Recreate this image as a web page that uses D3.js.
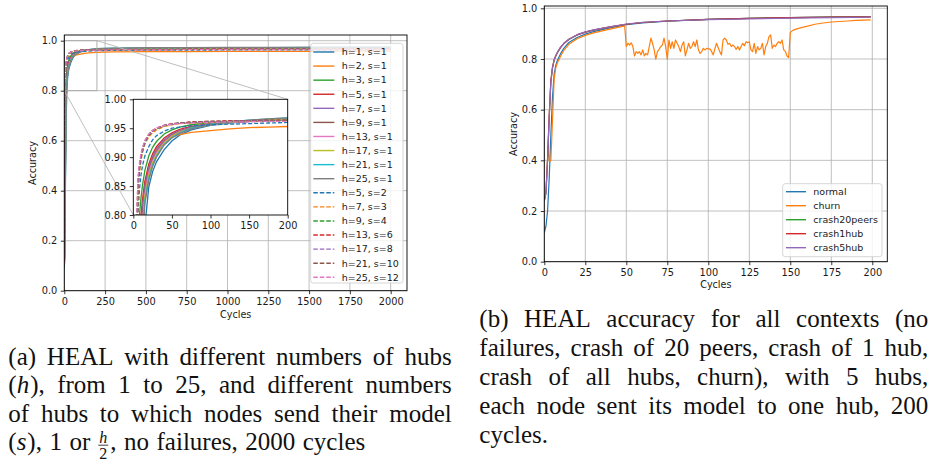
<!DOCTYPE html>
<html lang="en">
<head>
<meta charset="UTF-8">
<title>HEAL accuracy</title>
<script src="https://cdn.jsdelivr.net/npm/d3@7"></script>
<style>
  body { margin: 0; background: #fff; }
  svg { display: block; }
</style>
</head>
<body>
<svg width="935" height="461"></svg>
<script>
// ---------- (a) hubs / s ----------
var cyclesA = [0, 2, 4, 6, 8, 10, 12, 15, 20, 25, 30, 40, 50, 60, 75, 100, 125, 150, 175, 200, 300, 500, 750, 1000, 1250, 1500, 1750, 2000];

var accH1S1  = [0.09, 0.12, 0.20, 0.33, 0.48, 0.60, 0.70, 0.78, 0.848, 0.875, 0.892, 0.913, 0.928, 0.938, 0.947, 0.955, 0.959, 0.962, 0.964, 0.966, 0.968, 0.969, 0.970, 0.970, 0.971, 0.971, 0.971, 0.972];
var accH2S1  = [0.10, 0.15, 0.27, 0.45, 0.63, 0.75, 0.815, 0.855, 0.885, 0.903, 0.915, 0.928, 0.935, 0.939, 0.943, 0.946, 0.949, 0.951, 0.952, 0.953, 0.955, 0.956, 0.956, 0.957, 0.957, 0.957, 0.958, 0.958];
var accH3S1  = [0.10, 0.17, 0.33, 0.56, 0.80, 0.83, 0.852, 0.877, 0.902, 0.917, 0.927, 0.940, 0.947, 0.952, 0.956, 0.960, 0.962, 0.963, 0.964, 0.965, 0.966, 0.967, 0.967, 0.968, 0.968, 0.968, 0.968, 0.969];
var accH5S1  = [0.10, 0.16, 0.29, 0.48, 0.66, 0.80, 0.828, 0.858, 0.888, 0.906, 0.918, 0.933, 0.942, 0.948, 0.953, 0.958, 0.961, 0.962, 0.963, 0.964, 0.965, 0.966, 0.966, 0.967, 0.967, 0.967, 0.968, 0.968];
var accH7S1  = [0.10, 0.15, 0.27, 0.45, 0.63, 0.76, 0.815, 0.850, 0.882, 0.901, 0.914, 0.930, 0.940, 0.946, 0.952, 0.957, 0.960, 0.962, 0.963, 0.964, 0.966, 0.967, 0.967, 0.968, 0.968, 0.968, 0.969, 0.969];
var accH9S1  = [0.10, 0.15, 0.26, 0.43, 0.61, 0.73, 0.80, 0.842, 0.876, 0.897, 0.910, 0.927, 0.938, 0.945, 0.951, 0.957, 0.960, 0.962, 0.963, 0.965, 0.966, 0.967, 0.968, 0.968, 0.969, 0.969, 0.969, 0.970];
var accH13S1 = [0.10, 0.14, 0.25, 0.42, 0.59, 0.72, 0.79, 0.838, 0.873, 0.894, 0.908, 0.926, 0.937, 0.944, 0.950, 0.956, 0.960, 0.962, 0.964, 0.965, 0.967, 0.968, 0.968, 0.969, 0.969, 0.969, 0.970, 0.970];
var accH17S1 = [0.10, 0.14, 0.24, 0.40, 0.57, 0.70, 0.78, 0.832, 0.868, 0.890, 0.905, 0.924, 0.936, 0.943, 0.950, 0.956, 0.960, 0.963, 0.965, 0.966, 0.968, 0.969, 0.969, 0.970, 0.970, 0.970, 0.971, 0.971];
var accH21S1 = [0.09, 0.13, 0.23, 0.38, 0.55, 0.68, 0.765, 0.825, 0.863, 0.886, 0.902, 0.922, 0.934, 0.942, 0.950, 0.957, 0.961, 0.964, 0.966, 0.968, 0.970, 0.971, 0.971, 0.972, 0.972, 0.972, 0.973, 0.973];
var accH25S1 = [0.09, 0.13, 0.22, 0.37, 0.54, 0.67, 0.755, 0.82, 0.860, 0.884, 0.900, 0.921, 0.933, 0.941, 0.949, 0.956, 0.961, 0.964, 0.966, 0.968, 0.970, 0.972, 0.972, 0.973, 0.973, 0.974, 0.974, 0.974];
var accH5S2  = [0.11, 0.25, 0.55, 0.80, 0.845, 0.87, 0.886, 0.902, 0.918, 0.930, 0.937, 0.945, 0.950, 0.952, 0.954, 0.956, 0.957, 0.958, 0.959, 0.960, 0.961, 0.962, 0.962, 0.963, 0.963, 0.963, 0.963, 0.964];
var accH7S3  = [0.11, 0.28, 0.62, 0.83, 0.872, 0.895, 0.908, 0.922, 0.935, 0.942, 0.947, 0.953, 0.956, 0.958, 0.959, 0.961, 0.962, 0.962, 0.963, 0.963, 0.964, 0.964, 0.965, 0.965, 0.965, 0.965, 0.965, 0.966];
var accH9S4  = [0.11, 0.29, 0.66, 0.845, 0.878, 0.898, 0.911, 0.925, 0.937, 0.944, 0.949, 0.954, 0.957, 0.959, 0.960, 0.962, 0.962, 0.963, 0.963, 0.964, 0.964, 0.965, 0.965, 0.965, 0.966, 0.966, 0.966, 0.966];
var accH13S6 = [0.11, 0.31, 0.72, 0.855, 0.884, 0.902, 0.914, 0.927, 0.939, 0.946, 0.950, 0.955, 0.958, 0.959, 0.961, 0.962, 0.963, 0.963, 0.964, 0.964, 0.965, 0.965, 0.966, 0.966, 0.966, 0.966, 0.967, 0.967];
var accH17S8 = [0.11, 0.31, 0.71, 0.852, 0.882, 0.900, 0.912, 0.926, 0.938, 0.945, 0.950, 0.955, 0.957, 0.959, 0.960, 0.962, 0.962, 0.963, 0.963, 0.964, 0.965, 0.965, 0.965, 0.966, 0.966, 0.966, 0.966, 0.967];
var accH21S10 = [0.11, 0.33, 0.76, 0.86, 0.887, 0.904, 0.915, 0.928, 0.939, 0.946, 0.950, 0.955, 0.957, 0.959, 0.960, 0.961, 0.962, 0.962, 0.963, 0.963, 0.964, 0.964, 0.965, 0.965, 0.965, 0.965, 0.966, 0.966];
var accH25S12 = [0.11, 0.34, 0.78, 0.865, 0.890, 0.906, 0.917, 0.929, 0.940, 0.946, 0.950, 0.955, 0.957, 0.958, 0.959, 0.960, 0.961, 0.961, 0.962, 0.962, 0.963, 0.963, 0.964, 0.964, 0.964, 0.964, 0.965, 0.965];

var labelsA = ["h=1, s=1", "h=2, s=1", "h=3, s=1", "h=5, s=1", "h=7, s=1", "h=9, s=1", "h=13, s=1", "h=17, s=1", "h=21, s=1", "h=25, s=1",
               "h=5, s=2", "h=7, s=3", "h=9, s=4", "h=13, s=6", "h=17, s=8", "h=21, s=10", "h=25, s=12"];
var valuesA = [accH1S1, accH2S1, accH3S1, accH5S1, accH7S1, accH9S1, accH13S1, accH17S1, accH21S1, accH25S1,
               accH5S2, accH7S3, accH9S4, accH13S6, accH17S8, accH21S10, accH25S12];

var ticksXA = [0, 250, 500, 750, 1000, 1250, 1500, 1750, 2000];
var ticksY = [0, 0.2, 0.4, 0.6, 0.8, 1.0];
var ticksXInset = [0, 50, 100, 150, 200];
var ticksYInset = [0.80, 0.85, 0.90, 0.95, 1.00];

// ---------- (b) contexts ----------
var cyclesB = [0, 1, 2, 3, 4, 5, 6, 7, 8, 10, 12, 15, 20, 25, 30, 40, 50, 60, 75, 100, 125, 150, 175, 199];
var accNormal    = [0.115, 0.14, 0.20, 0.33, 0.50, 0.65, 0.74, 0.775, 0.795, 0.822, 0.843, 0.865, 0.885, 0.898, 0.908, 0.923, 0.935, 0.942, 0.949, 0.956, 0.960, 0.963, 0.965, 0.967];
var accCrash20   = [0.24, 0.27, 0.40, 0.57, 0.71, 0.765, 0.795, 0.812, 0.825, 0.846, 0.861, 0.877, 0.895, 0.906, 0.914, 0.926, 0.937, 0.944, 0.950, 0.956, 0.960, 0.963, 0.965, 0.967];
var accCrash1Hub = [0.245, 0.275, 0.41, 0.58, 0.715, 0.768, 0.797, 0.813, 0.826, 0.847, 0.862, 0.878, 0.895, 0.906, 0.914, 0.927, 0.937, 0.944, 0.950, 0.956, 0.960, 0.963, 0.965, 0.966];
var accCrash5Hub = [0.24, 0.27, 0.40, 0.57, 0.71, 0.765, 0.796, 0.813, 0.826, 0.847, 0.862, 0.878, 0.896, 0.907, 0.915, 0.927, 0.938, 0.945, 0.950, 0.955, 0.958, 0.961, 0.963, 0.965];

var churnEarlyCycles = [2, 3, 4, 5, 6, 7, 8, 10, 12, 15, 20, 25, 30, 40, 49];
var churnEarly = [0.458, 0.40, 0.398, 0.56, 0.72, 0.765, 0.785, 0.812, 0.835, 0.858, 0.880, 0.893, 0.903, 0.918, 0.931];
// cycles 50 .. 149, one value per cycle
var churnMid = [
  0.849, 0.862, 0.855, 0.864, 0.849, 0.812, 0.829, 0.822, 0.829, 0.816,
  0.836, 0.812, 0.822, 0.816, 0.849, 0.882, 0.862, 0.836, 0.799, 0.829,
  0.838, 0.849, 0.855, 0.882, 0.849, 0.799, 0.875, 0.842, 0.868, 0.842,
  0.875, 0.862, 0.849, 0.829, 0.855, 0.868, 0.812, 0.836, 0.862, 0.842,
  0.849, 0.868, 0.849, 0.875, 0.836, 0.822, 0.829, 0.842, 0.836, 0.842,
  0.840, 0.840, 0.830, 0.816, 0.840, 0.862, 0.845, 0.829, 0.816, 0.875,
  0.882, 0.875, 0.858, 0.862, 0.849, 0.855, 0.849, 0.838, 0.849, 0.836,
  0.849, 0.862, 0.852, 0.868, 0.864, 0.868, 0.836, 0.829, 0.862, 0.822,
  0.849, 0.836, 0.842, 0.862, 0.816, 0.849, 0.862, 0.888, 0.895, 0.842,
  0.855, 0.849, 0.862, 0.868, 0.862, 0.875, 0.836, 0.830, 0.812, 0.806
];
var churnLateCycles = [150, 151, 152, 153, 155, 158, 160, 165, 170, 175, 180, 185, 190, 195, 199];
var churnLate = [0.905, 0.910, 0.914, 0.917, 0.921, 0.926, 0.929, 0.937, 0.942, 0.946, 0.948, 0.950, 0.952, 0.953, 0.954];

var labelsB = ["normal", "churn", "crash20peers", "crash1hub", "crash5hub"];
var ticksXB = [0, 25, 50, 75, 100, 125, 150, 175, 200];

// ---------- styles ----------
var tab = ["#1f77b4", "#ff7f0e", "#2ca02c", "#d62728", "#9467bd", "#8c564b", "#e377c2", "#bcbd22", "#17becf", "#7f7f7f"];
var colorsA = tab.concat(tab.slice(0, 7));
var colorsB = tab.slice(0, 5);
var sansFont = "DejaVu Sans";
var tickSize = 9.8;

var svg = d3.select("svg");

function pairs(xs, ys) {
    return xs.map(function (x, i) { return [x, ys[i]]; });
}

function drawGrid(g, x, y, xt, yt) {
    var xr = x.range(), yr = y.range();
    g.append("g").selectAll("line").data(xt).join("line")
        .attr("x1", d => x(d)).attr("x2", d => x(d))
        .attr("y1", yr[0]).attr("y2", yr[1])
        .attr("stroke", "#b0b0b0").attr("stroke-width", 0.8);
    g.append("g").selectAll("line").data(yt).join("line")
        .attr("y1", d => y(d)).attr("y2", d => y(d))
        .attr("x1", xr[0]).attr("x2", xr[1])
        .attr("stroke", "#b0b0b0").attr("stroke-width", 0.8);
}

function drawAxes(g, x, y, xt, yt, fx, fy) {
    var xr = x.range(), yr = y.range();
    var ax = g.append("g").attr("transform", "translate(0," + yr[0] + ")")
        .call(d3.axisBottom(x).tickValues(xt).tickFormat(fx).tickSize(3.5).tickPadding(3.5));
    var ay = g.append("g").attr("transform", "translate(" + xr[0] + ",0)")
        .call(d3.axisLeft(y).tickValues(yt).tickFormat(fy).tickSize(3.5).tickPadding(3.5));
    [ax, ay].forEach(function (a) {
        a.select(".domain").remove();
        a.attr("font-family", sansFont).attr("font-size", tickSize);
        a.selectAll("line").attr("stroke", "#000").attr("stroke-width", 0.8);
        a.selectAll("text").attr("fill", "#1a1a1a");
    });
    g.append("rect")
        .attr("x", xr[0]).attr("y", yr[1])
        .attr("width", xr[1] - xr[0]).attr("height", yr[0] - yr[1])
        .attr("fill", "none").attr("stroke", "#000").attr("stroke-width", 0.9);
}

function clipFor(id, x, y) {
    var xr = x.range(), yr = y.range();
    svg.append("clipPath").attr("id", id).append("rect")
        .attr("x", xr[0]).attr("y", yr[1])
        .attr("width", xr[1] - xr[0]).attr("height", yr[0] - yr[1]);
    return "url(#" + id + ")";
}

function axisLabels(x, y, cx, cy, ax, ay) {
    svg.append("text").attr("x", cx).attr("y", cy).attr("dy", "0.35em")
        .attr("text-anchor", "middle").attr("font-family", sansFont).attr("font-size", 9.6)
        .attr("fill", "#1a1a1a").text("Cycles");
    svg.append("text").attr("transform", "translate(" + ax + "," + ay + ") rotate(-90)").attr("dy", "0.35em")
        .attr("text-anchor", "middle").attr("font-family", sansFont).attr("font-size", 9.6)
        .attr("fill", "#1a1a1a").text("Accuracy");
}

function legend(labels, colors, dashed, box, rowY, step, lineX, textX) {
    var g = svg.append("g");
    g.append("rect").attr("x", box[0]).attr("y", box[1]).attr("width", box[2]).attr("height", box[3])
        .attr("rx", 2.5).attr("fill", "#fff").attr("fill-opacity", 0.8)
        .attr("stroke", "#cccccc").attr("stroke-width", 0.8);
    labels.forEach(function (lab, i) {
        var yy = rowY + i * step;
        g.append("line").attr("x1", lineX[0]).attr("x2", lineX[1]).attr("y1", yy).attr("y2", yy)
            .attr("stroke", colors[i]).attr("stroke-width", 1.4)
            .attr("stroke-dasharray", dashed(i) ? "4.5,2" : null);
        g.append("text").attr("x", textX).attr("y", yy).attr("dy", "0.35em")
            .attr("font-family", sansFont).attr("font-size", 9.5).attr("fill", "#1a1a1a").text(lab);
    });
}

// ================= chart (a) =================
var xA = d3.scaleLinear().domain([0, 2100]).range([64.3, 407]);
var yA = d3.scaleLinear().domain([0, 1.0228]).range([290.7, 35]);
var lineA = d3.line().x(d => xA(d[0])).y(d => yA(d[1]));
var isDashed = i => i >= 10;

var gA = svg.append("g");
drawGrid(gA, xA, yA, ticksXA, ticksY);
var clipA = clipFor("clipA", xA, yA);
gA.append("g").attr("clip-path", clipA).selectAll("path").data(valuesA).join("path")
    .attr("d", v => lineA(pairs(cyclesA, v)))
    .attr("fill", "none")
    .attr("stroke", (v, i) => colorsA[i])
    .attr("stroke-width", 1.2)
    .attr("stroke-dasharray", (v, i) => isDashed(i) ? "4,2" : null);

// zoom indicator
var xI = d3.scaleLinear().domain([0, 200]).range([133.3, 287.7]);
var yI = d3.scaleLinear().domain([0.8, 1.0]).range([215, 99.3]);
gA.append("rect")
    .attr("x", xA(0)).attr("y", yA(1.0))
    .attr("width", xA(200) - xA(0)).attr("height", yA(0.8) - yA(1.0))
    .attr("fill", "none").attr("stroke", "#a8a8a8").attr("stroke-width", 0.9);
gA.append("line").attr("x1", xA(0)).attr("y1", yA(0.8)).attr("x2", xI(0)).attr("y2", yI(0.8))
    .attr("stroke", "#b8b8b8").attr("stroke-width", 0.9);
gA.append("line").attr("x1", xA(200)).attr("y1", yA(1.0)).attr("x2", xI(200)).attr("y2", yI(1.0))
    .attr("stroke", "#b8b8b8").attr("stroke-width", 0.9);

drawAxes(gA, xA, yA, ticksXA, ticksY, d3.format("d"), d3.format(".1f"));
axisLabels(xA, yA, 235.7, 315, 33, 163);

// inset
var gI = svg.append("g");
gI.append("rect").attr("x", xI(0)).attr("y", yI(1.0))
    .attr("width", xI(200) - xI(0)).attr("height", yI(0.8) - yI(1.0)).attr("fill", "#fff");
var lineI = d3.line().x(d => xI(d[0])).y(d => yI(d[1]));
var clipI = clipFor("clipI", xI, yI);
gI.append("g").attr("clip-path", clipI).selectAll("path").data(valuesA).join("path")
    .attr("d", v => lineI(pairs(cyclesA, v)))
    .attr("fill", "none")
    .attr("stroke", (v, i) => colorsA[i])
    .attr("stroke-width", 1.3)
    .attr("stroke-dasharray", (v, i) => isDashed(i) ? "4,2" : null);
drawAxes(gI, xI, yI, ticksXInset, ticksYInset, d3.format("d"), d3.format(".2f"));

legend(labelsA, colorsA, isDashed, [310.7, 43.3, 92.3, 239.7], 52, 14.08, [313.3, 334.3], 341.7);

// ================= chart (b) =================
var xB = d3.scaleLinear().domain([0, 209.15]).range([544.3, 887.3]);
var yB = d3.scaleLinear().domain([0, 1.0091]).range([261.7, 6]);
var lineB = d3.line().x(d => xB(d[0])).y(d => yB(d[1]));

var churnPts = pairs(churnEarlyCycles, churnEarly)
    .concat(churnMid.map((v, i) => [50 + i, v]))
    .concat(pairs(churnLateCycles, churnLate));
var seriesB = [pairs(cyclesB, accNormal), churnPts, pairs(cyclesB, accCrash20),
               pairs(cyclesB, accCrash1Hub), pairs(cyclesB, accCrash5Hub)];

var gB = svg.append("g");
drawGrid(gB, xB, yB, ticksXB, ticksY);
var clipB = clipFor("clipB", xB, yB);
gB.append("g").attr("clip-path", clipB).selectAll("path").data(seriesB).join("path")
    .attr("d", lineB)
    .attr("fill", "none")
    .attr("stroke", (d, i) => colorsB[i])
    .attr("stroke-width", 1.2)
    .attr("stroke-linejoin", "round");
drawAxes(gB, xB, yB, ticksXB, ticksY, d3.format("d"), d3.format(".1f"));
axisLabels(xB, yB, 715.8, 285, 513.3, 134);
legend(labelsB, colorsB, () => false, [782.7, 183.7, 99.3, 73], 191.7, 14, [786, 806], 813.3);

// ================= captions =================
var capFont = "Liberation Serif";
var capSize = 25;

function makeWord(g, word, y) {
    var wg = g.append("g");
    var cx = 0;
    word.split(/(\*[^*]+\*|\{frac\})/).filter(s => s.length).forEach(function (part) {
        if (part === "{frac}") {
            var fw = 11;
            wg.append("text").attr("x", cx + fw / 2).attr("y", y - 7.5).attr("text-anchor", "middle")
                .attr("font-size", 16).attr("font-style", "italic").text("h");
            wg.append("line").attr("x1", cx + 0.5).attr("x2", cx + fw - 0.5).attr("y1", y - 5).attr("y2", y - 5)
                .attr("stroke", "#111").attr("stroke-width", 0.8);
            wg.append("text").attr("x", cx + fw / 2).attr("y", y + 9).attr("text-anchor", "middle")
                .attr("font-size", 16).text("2");
            cx += fw + 1.5;
        } else {
            var italic = part[0] === "*";
            var t = wg.append("text").attr("x", cx).attr("y", y).text(italic ? part.slice(1, -1) : part);
            if (italic) t.attr("font-style", "italic");
            cx += t.node().getComputedTextLength() + (italic ? 1 : 0);
        }
    });
    return {g: wg, w: cx};
}

function caption(lines, x0, x1, y0, dy) {
    var g = svg.append("g").attr("font-family", capFont).attr("font-size", capSize).attr("fill", "#111");
    lines.forEach(function (line, i) {
        var y = y0 + i * dy;
        var words = line[0].split(" ").map(w => makeWord(g, w, y));
        var total = d3.sum(words, d => d.w);
        var gap = line[1] ? (x1 - x0 - total) / (words.length - 1) : capSize * 0.3;
        var x = x0;
        words.forEach(function (wd) {
            wd.g.attr("transform", "translate(" + x + ",0)");
            x += wd.w + gap;
        });
    });
}

caption([
    ["(a) HEAL with different numbers of hubs", true],
    ["(*h*), from 1 to 25, and different numbers", true],
    ["of hubs to which nodes send their model", true],
    ["(*s*), 1 or {frac}, no failures, 2000 cycles", false]
], 8.3, 451.7, 365, 28.4);

caption([
    ["(b) HEAL accuracy for all contexts (no", true],
    ["failures, crash of 20 peers, crash of 1 hub,", true],
    ["crash of all hubs, churn), with 5 hubs,", true],
    ["each node sent its model to one hub, 200", true],
    ["cycles.", false]
], 479.3, 928.3, 326.7, 29.15);
</script>
</body>
</html>
